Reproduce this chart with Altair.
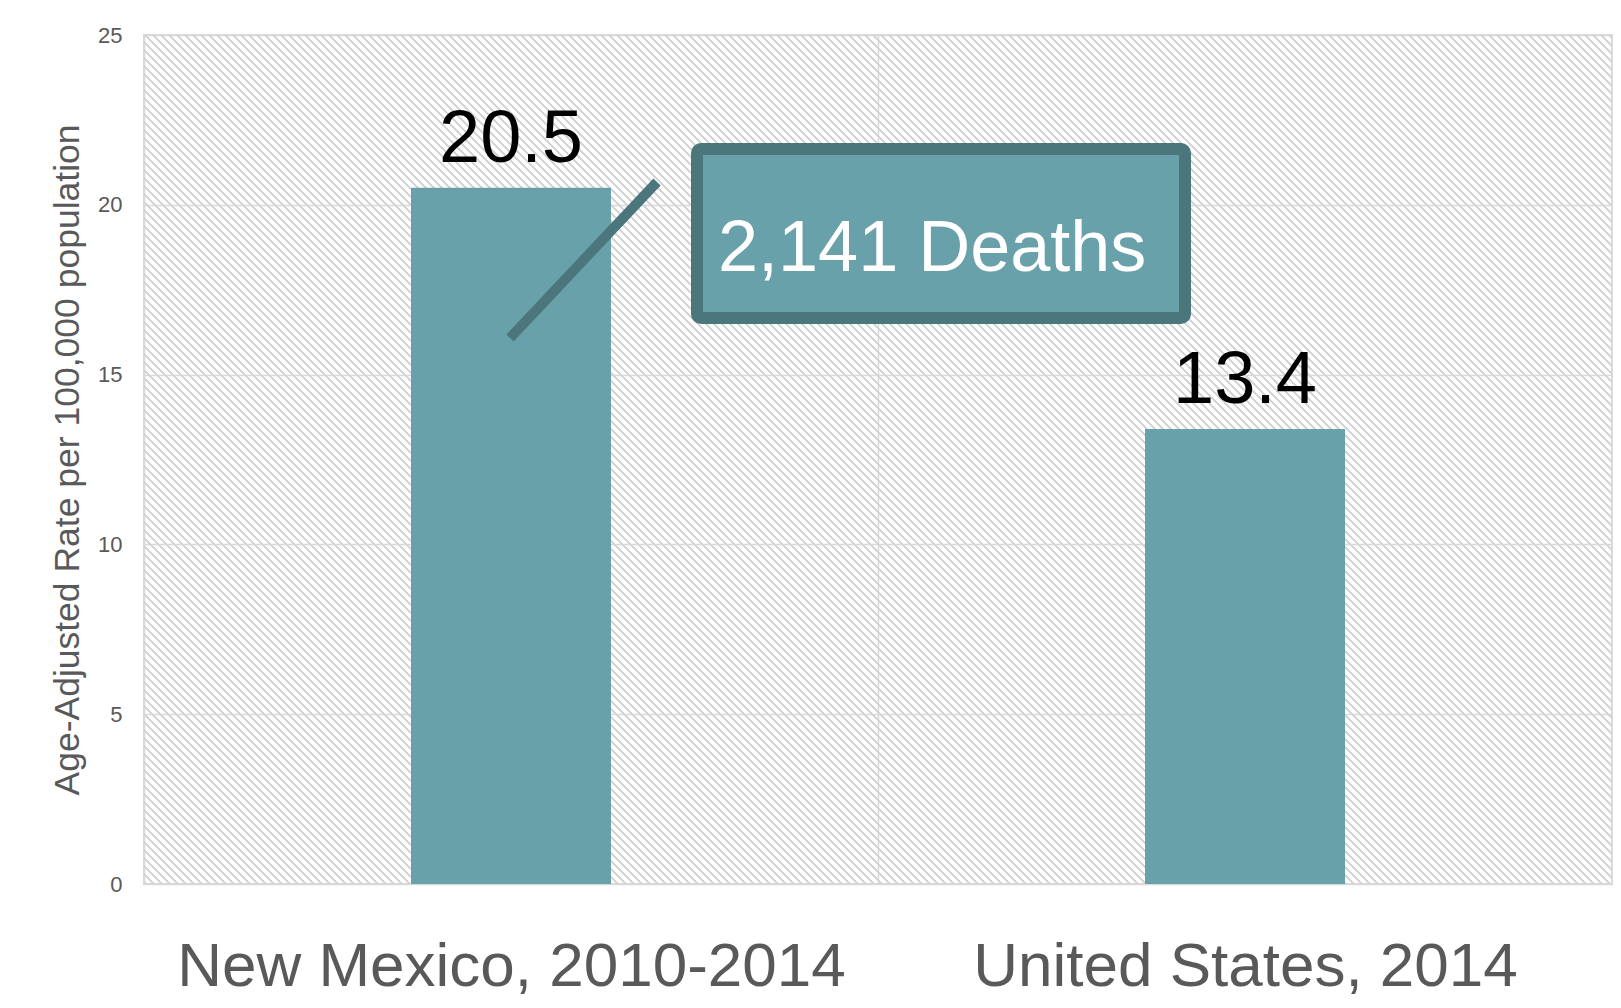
import math
import altair as alt
import pandas as pd

# ---- data ----
categories = ["New Mexico, 2010-2014", "United States, 2014"]
rates = [20.5, 13.4]
rate_labels = ["20.5", "13.4"]
y_ticks = [0, 5, 10, 15, 20, 25]
y_title = "Age-Adjusted Rate per 100,000 population"
note_text = "2,141 Deaths"

df = pd.DataFrame({"cat": categories, "rate": rates, "label": rate_labels})
note_df = pd.DataFrame({"note": [note_text]})

# ---- style ----
W, H = 1468, 849
BAR = "#68a1aa"
DARK = "#4b767c"
GRID = "#d9d9d9"
FONT = "Liberation Sans"

# diagonal hatch (downward diagonal, 8px repeat) as a striped linear gradient
L = W + H
clear = "rgba(255,255,255,0)"
hatch = "#d6d6d6"
stops = [alt.GradientStop(color=clear, offset=0)]
for k in range(math.ceil(L / 8)):
    a = (8 * k + 0.5) / L
    b = (8 * k + 3.5) / L
    if b > 1:
        break
    stops += [alt.GradientStop(color=clear, offset=a),
              alt.GradientStop(color=hatch, offset=a),
              alt.GradientStop(color=hatch, offset=b),
              alt.GradientStop(color=clear, offset=b)]
stops.append(alt.GradientStop(color=clear, offset=1))
grad = alt.LinearGradient(gradient="linear", stops=stops,
                          x1=0, y1=1, x2=1.1828, y2=0.3160)

x_enc = alt.X("cat:N", sort=categories,
              scale=alt.Scale(paddingInner=0, paddingOuter=0),
              axis=alt.Axis(title=None, labelAngle=0, labelFontSize=62,
                            labelFont=FONT, labelColor="#595959",
                            labelBaseline="alphabetic", labelPadding=101,
                            labelLimit=0,
                            ticks=False, domain=False, grid=True,
                            tickBand="extent", gridColor=GRID, gridWidth=1.5))
y_enc = alt.Y("rate:Q", scale=alt.Scale(domain=[0, 25], nice=False),
              axis=alt.Axis(values=y_ticks, title=y_title, titleFont=FONT,
                            titleFontSize=35.5, titleFontWeight="normal",
                            titleColor="#595959", titleAngle=-90,
                            titleX=-66, titleY=H / 2, titleAlign="center",
                            titleBaseline="alphabetic", titleLimit=0,
                            labelFont=FONT, labelFontSize=22,
                            labelColor="#595959", labelPadding=22,
                            ticks=False, domain=False, grid=True,
                            gridColor=GRID, gridWidth=1.5))

base = alt.Chart(df)

hatch_layer = alt.Chart(note_df).mark_rect(fill=grad).encode(
    x=alt.value(0), x2=alt.value(W), y=alt.value(0), y2=alt.value(H))

bars = base.mark_bar(color=BAR, width=200).encode(x=x_enc, y=y_enc)

values = base.mark_text(font=FONT, fontSize=74, color="black",
                        baseline="alphabetic", dy=-26).encode(
    x=alt.X("cat:N", sort=categories), y="rate:Q", text="label:N")

leader = alt.Chart(note_df).mark_rule(color=DARK, strokeWidth=10,
                                      strokeCap="butt").encode(
    x=alt.value(366), x2=alt.value(513), y=alt.value(303), y2=alt.value(147))

box = alt.Chart(note_df).mark_rect(fill=BAR, stroke=DARK, strokeWidth=12,
                                   cornerRadius=4).encode(
    x=alt.value(553), x2=alt.value(1041), y=alt.value(114), y2=alt.value(283))

note = alt.Chart(note_df).mark_text(font=FONT, fontSize=72, color="white",
                                    align="left", baseline="alphabetic").encode(
    x=alt.value(574), y=alt.value(236), text="note:N")

chart = alt.layer(hatch_layer, bars, values, leader, box, note).properties(
    width=W, height=H,
    padding={"left": 136, "top": 27, "right": 1, "bottom": 115},
    autosize=alt.AutoSizeParams(type="none"),
    background="white",
).configure_view(stroke=GRID, strokeWidth=2)

chart.save("out.html", embed_options={"renderer": "svg", "actions": False})
